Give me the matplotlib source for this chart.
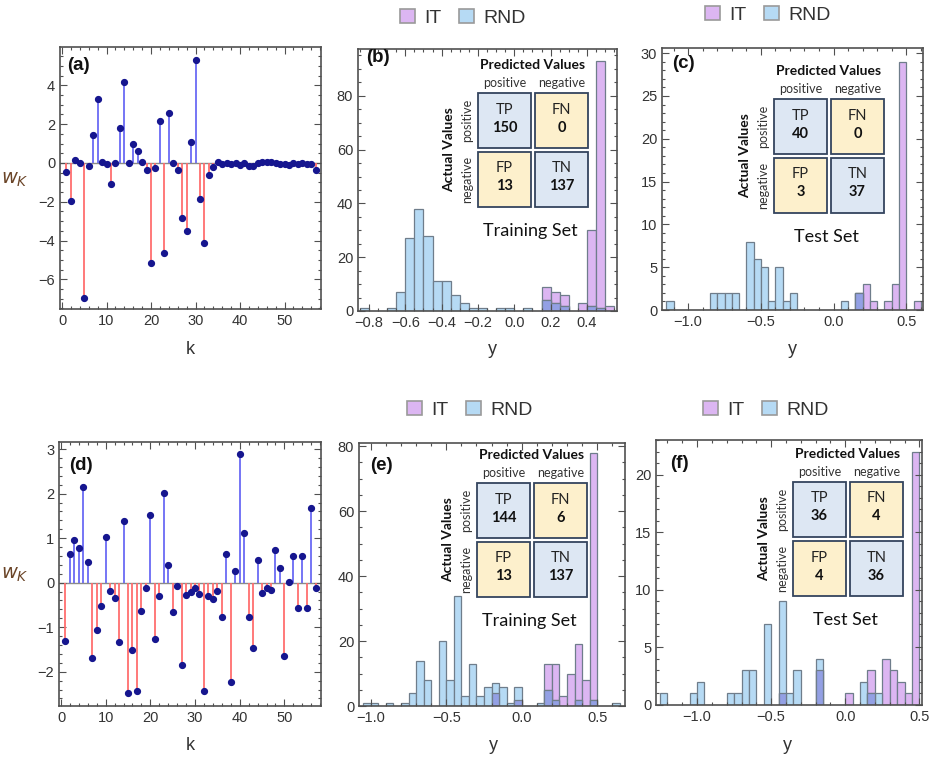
import numpy as np
import matplotlib
matplotlib.use("Agg")
import matplotlib.pyplot as plt
from matplotlib.patches import Rectangle, Patch
from matplotlib.ticker import MultipleLocator

# ---- stem weights ----
k = np.arange(1, 58)
w_a = [-0.45, -1.95, 0.15, 0.0, -6.95, -0.15, 1.45, 3.3, 0.05, -0.05,
       -1.1, 0.0, 1.8, 4.2, 0.0, 1.0, 0.6, 0.05, -0.35, -5.15,
       -0.25, 2.15, -4.65, 2.6, 0.0, -0.35, -2.85, -3.5, 1.1, 5.3,
       -1.85, -4.15, -0.6, -0.2, 0.05, -0.05, 0.0, -0.05, 0.0, -0.1,
       0.0, -0.15, -0.15, 0.0, 0.05, 0.05, 0.05, 0.0, -0.05, -0.05,
       -0.1, 0.0, -0.05, 0.0, -0.05, -0.05, -0.35]
w_d = [-1.31, 0.64, 0.95, 0.79, 2.14, 0.47, -1.69, -1.06, -0.52, 1.02,
       -0.19, -0.34, -1.33, 1.38, -2.48, -1.52, -2.43, -0.64, -0.12, 1.52,
       -1.27, -0.31, 2.02, 0.40, -0.65, -0.07, -1.84, -0.27, -0.22, -0.12,
       -0.26, -2.43, -0.29, -0.37, -0.19, -0.76, 0.64, -2.22, 0.26, 2.88,
       1.12, -0.76, -1.46, 0.52, -0.24, -0.12, -0.17, 0.73, 0.34, -1.65,
       0.02, 0.59, -0.57, 0.59, -0.57, 1.67, -0.13]

# ---- histograms (bin left edges, width 0.05) ----
BW = 0.05
b_rnd_left = [-0.85, -0.70, -0.65, -0.60, -0.55, -0.50, -0.45, -0.40, -0.35, -0.30,
              -0.25, -0.20, -0.10, -0.05, 0.05, 0.15, 0.20, 0.25, 0.40, 0.45]
b_rnd_count = [1, 1, 7, 27, 38, 28, 11, 11, 6, 3, 1, 1, 1, 1, 1, 4, 3, 2, 2, 1]
b_it_left = [0.15, 0.20, 0.25, 0.35, 0.40, 0.45, 0.50]
b_it_count = [9, 7, 6, 3, 30, 93, 2]

c_rnd_left = [-1.15, -0.85, -0.80, -0.75, -0.70, -0.60, -0.55, -0.50, -0.45, -0.40,
              -0.35, -0.30, 0.05, 0.15]
c_rnd_count = [1, 2, 2, 2, 2, 8, 6, 5, 1, 5, 1, 2, 1, 2]
c_it_left = [0.15, 0.20, 0.25, 0.35, 0.40, 0.45, 0.55]
c_it_count = [2, 3, 1, 1, 3, 29, 1]

e_rnd_left = [-1.05, -1.00, -0.90, -0.80, -0.75, -0.70, -0.65, -0.55, -0.50, -0.45,
              -0.40, -0.35, -0.30, -0.25, -0.20, -0.15, -0.10, -0.05, 0.10, 0.15,
              0.20, 0.35, 0.45, 0.60]
e_rnd_count = [1, 1, 1, 1, 4, 14, 8, 20, 8, 34, 3, 13, 3, 6, 7, 6, 1, 6, 1, 5, 2, 2, 2, 1]
e_it_left = [-0.20, -0.05, 0.15, 0.20, 0.25, 0.30, 0.35, 0.40, 0.45]
e_it_count = [4, 2, 13, 13, 3, 10, 19, 8, 78]

f_rnd_left = [-1.25, -1.05, -1.00, -0.80, -0.75, -0.70, -0.65, -0.55, -0.45, -0.40,
              -0.35, -0.20, 0.10, 0.15, 0.20]
f_rnd_count = [1, 1, 2, 1, 1, 3, 3, 7, 9, 1, 3, 4, 2, 1, 1]
f_it_left = [-0.45, -0.20, 0.00, 0.15, 0.25, 0.30, 0.35, 0.40, 0.45]
f_it_count = [1, 3, 1, 3, 4, 3, 2, 1, 22]

# confusion matrices: TP, FN, FP, TN
cm_b = [150, 0, 13, 137]
cm_c = [40, 0, 3, 37]
cm_e = [144, 6, 13, 137]
cm_f = [36, 4, 4, 36]

W, H = 933, 760
IT_C = "#dcb6f2"
RND_C = "#b6daf4"
OV_C = "#93a0e4"
EDGE = "#6f7d8b"
TXT = "#333333"
FRAME = "#505050"

plt.rcParams["font.family"] = ["Liberation Sans", "DejaVu Sans"]

fig = plt.figure(figsize=(W / 100, H / 100), dpi=100)


def add_ax(l, r, t, b):
    return fig.add_axes([l / W, 1 - b / H, (r - l) / W, (b - t) / H])


def style(ax, xmaj, xmin, ymaj, ymin):
    ax.xaxis.set_major_locator(MultipleLocator(xmaj))
    ax.xaxis.set_minor_locator(MultipleLocator(xmin))
    ax.yaxis.set_major_locator(MultipleLocator(ymaj))
    ax.yaxis.set_minor_locator(MultipleLocator(ymin))
    ax.tick_params(which="both", direction="in", top=True, right=True,
                   color=FRAME, labelsize=10.5, labelcolor=TXT, width=0.8)
    ax.tick_params(which="major", length=5)
    ax.tick_params(which="minor", length=2.5)
    for s in ax.spines.values():
        s.set_color(FRAME)
        s.set_linewidth(1.2)


def stem_panel(ax, w, ylim):
    w = np.asarray(w)
    pos = w >= 0
    ax.axhline(0, color="#8a8a8a", lw=1.0, zorder=1)
    ax.vlines(k[pos], 0, w[pos], colors="#6a6af5", lw=1.3, zorder=2)
    ax.vlines(k[~pos], 0, w[~pos], colors="#ff6e6e", lw=1.3, zorder=2)
    ax.plot(k, w, "o", color="#16168f", ms=4.2, zorder=3)
    ax.set_xlim(-0.45, 58.2)
    ax.set_ylim(*ylim)


def hist_panel(ax, rl, rc, il, ic, xlim, ylim):
    ax.bar(il, ic, width=BW, align="edge", color=IT_C, edgecolor=EDGE, lw=0.9)
    ax.bar(rl, rc, width=BW, align="edge", color=RND_C, edgecolor=EDGE, lw=0.9)
    rnd = {round(x, 3): c for x, c in zip(rl, rc)}
    ol = [x for x in il if round(x, 3) in rnd]
    oh = [min(c, rnd[round(x, 3)]) for x, c in zip(il, ic) if round(x, 3) in rnd]
    ax.bar(ol, oh, width=BW, align="edge", color=OV_C, edgecolor=EDGE, lw=0.9)
    ax.set_xlim(*xlim)
    ax.set_ylim(*ylim)


ax_a = add_ax(60, 321, 47, 309)
stem_panel(ax_a, w_a, (-7.53, 5.98))
style(ax_a, 10, 2, 2, 0.5)

ax_d = add_ax(59, 321, 442, 706)
stem_panel(ax_d, w_d, (-2.77, 3.16))
style(ax_d, 10, 2, 1, 0.2)

ax_b = add_ax(358, 617, 49, 311)
hist_panel(ax_b, b_rnd_left, b_rnd_count, b_it_left, b_it_count, (-0.86, 0.565), (0, 97.4))
style(ax_b, 0.2, 0.05, 20, 5)

ax_c = add_ax(662, 923, 48, 310)
hist_panel(ax_c, c_rnd_left, c_rnd_count, c_it_left, c_it_count, (-1.18, 0.615), (0, 30.6))
style(ax_c, 0.5, 0.1, 5, 1)

ax_e = add_ax(359, 625, 443, 706)
hist_panel(ax_e, e_rnd_left, e_rnd_count, e_it_left, e_it_count, (-1.078, 0.684), (0, 81))
style(ax_e, 0.5, 0.1, 20, 5)

ax_f = add_ax(656, 922, 440, 705)
hist_panel(ax_f, f_rnd_left, f_rnd_count, f_it_left, f_it_count, (-1.277, 0.518), (0, 23))
style(ax_f, 0.5, 0.1, 5, 1)

# overlay in pixel coordinates for annotations
ov = fig.add_axes([0, 0, 1, 1], zorder=10)
ov.set_xlim(0, W)
ov.set_ylim(H, 0)
ov.axis("off")

for x, y, s in [(67, 66, "(a)"), (366, 58, "(b)"), (672, 64, "(c)"),
                (69, 465, "(d)"), (370, 466, "(e)"), (670, 463, "(f)")]:
    ov.text(x, y, s, fontsize=13.5, fontweight="bold", ha="left", va="center", color="#111111")

for x, y in [(190, 350), (190, 745)]:
    ov.text(x, y, "k", fontsize=13, ha="center", va="center", color=TXT)
for x, y in [(492, 350), (792, 350), (493, 745), (787, 746)]:
    ov.text(x, y, "y", fontsize=13, ha="center", va="center", color=TXT)
for y in [180, 575]:
    ov.text(15, y, r"$w_K$", fontsize=14, ha="center", va="center", color="#6b4528")

CMF = ["Lato", "DejaVu Sans"]


def conf_matrix(x0, y0, vals, title):
    bw, bh, g = 53, 55, 4
    names = ["TP", "FN", "FP", "TN"]
    faces = ["#dde7f3", "#fdf0cc", "#fdf0cc", "#dde7f3"]
    for i in range(4):
        r, c = divmod(i, 2)
        bx = x0 + c * (bw + g)
        by = y0 + r * (bh + g)
        ov.add_patch(Rectangle((bx, by), bw, bh, facecolor=faces[i],
                               edgecolor="#34445e", lw=1.3))
        ov.text(bx + bw / 2, by + bh / 2 - 11, names[i], fontsize=10.5,
                family=CMF, ha="center", va="center", color="#222222")
        ov.text(bx + bw / 2, by + bh / 2 + 7, str(vals[i]), fontsize=10.5,
                family=CMF, fontweight="bold", ha="center", va="center", color="#111111")
    cx = x0 + bw + g / 2
    ov.text(cx, y0 - 28, "Predicted Values", fontsize=10, family=CMF,
            fontweight="bold", ha="center", va="center", color="#111111")
    ov.text(x0 + bw / 2, y0 - 10, "positive", fontsize=9, family=CMF,
            ha="center", va="center", color="#333333")
    ov.text(x0 + bw + g + bw / 2, y0 - 10, "negative", fontsize=9, family=CMF,
            ha="center", va="center", color="#333333")
    ov.text(x0 - 29, y0 + bh + g / 2, "Actual Values", fontsize=10, family=CMF,
            fontweight="bold", rotation=90, ha="center", va="center", color="#111111")
    ov.text(x0 - 11, y0 + bh / 2, "positive", fontsize=9, family=CMF,
            rotation=90, ha="center", va="center", color="#333333")
    ov.text(x0 - 11, y0 + bh + g + bh / 2, "negative", fontsize=9, family=CMF,
            rotation=90, ha="center", va="center", color="#333333")
    ov.text(cx - 3, y0 + 138, title, fontsize=13, family=CMF,
            ha="center", va="center", color="#111111")


conf_matrix(478, 93, cm_b, "Training Set")
conf_matrix(774, 99, cm_c, "Test Set")
conf_matrix(477, 483, cm_e, "Training Set")
conf_matrix(793, 482, cm_f, "Test Set")

handles = [Patch(facecolor=IT_C, edgecolor="#9a9a9a", lw=1.2),
           Patch(facecolor=RND_C, edgecolor="#9a9a9a", lw=1.2)]
for cx, cy in [(463, 18), (768, 15), (470, 410), (766, 410)]:
    fig.legend(handles, ["IT", "RND"], loc="center",
               bbox_to_anchor=(cx / W, 1 - cy / H), ncol=2, frameon=False,
               fontsize=14, handlelength=0.75, handleheight=0.75,
               handletextpad=0.5, columnspacing=0.9, labelcolor=TXT)

fig.savefig("out.png", dpi=100)
